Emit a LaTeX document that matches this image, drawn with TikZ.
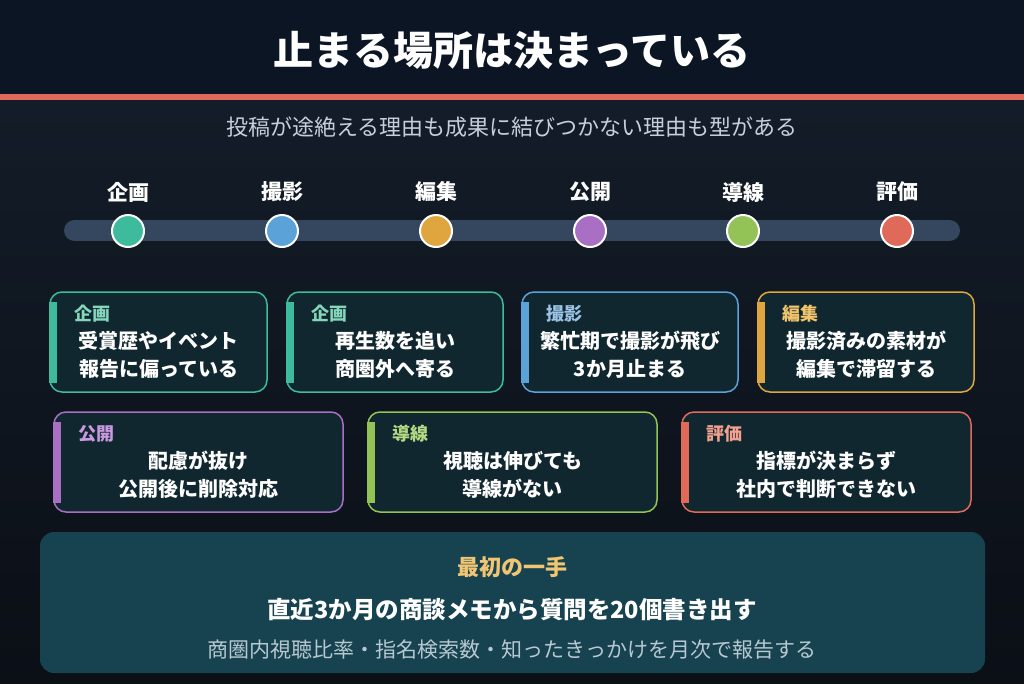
\documentclass[tikz,border=0pt]{standalone}
\usepackage{fontspec}
\setmainfont{Noto Sans CJK JP}
\definecolor{headbg}{HTML}{0B1524}
\definecolor{bgtop}{HTML}{131C28}
\definecolor{bgbot}{HTML}{0B0F16}
\definecolor{redline}{HTML}{E06A5A}
\definecolor{barcol}{HTML}{34475E}
\definecolor{cardbg}{HTML}{11272F}
\definecolor{boxbg}{HTML}{16434F}
\definecolor{subtxt}{HTML}{C5D0DC}
\definecolor{boxsub}{HTML}{B8C8D3}
\definecolor{gold}{HTML}{F0C674}
\definecolor{cA}{HTML}{3DBB9C}\definecolor{cAl}{HTML}{86D6BC}
\definecolor{cB}{HTML}{5BA2D9}\definecolor{cBl}{HTML}{9CC3E6}
\definecolor{cC}{HTML}{DFA640}\definecolor{cCl}{HTML}{F2C46B}
\definecolor{cD}{HTML}{A96FC4}\definecolor{cDl}{HTML}{C99AE0}
\definecolor{cE}{HTML}{93C256}\definecolor{cEl}{HTML}{B5DA84}
\definecolor{cF}{HTML}{E06A5A}\definecolor{cFl}{HTML}{F2A090}
\tikzset{
  dot/.style={circle, minimum size=32, inner sep=0, draw=white, line width=2},
  steplabel/.style={font=\fontsize{21}{25}\selectfont\bfseries, text=white},
  cardlabel/.style={anchor=west, inner sep=0, font=\fontsize{18}{22}\selectfont\bfseries},
  cardbody/.style={align=center, inner sep=0, font=\fontsize{20}{28}\selectfont\bfseries, text=white},
}
\newcommand\mkcard[9]{%
  \draw[fill=cardbg, draw=#6, line width=1.5, rounded corners=12] (#2,#3) rectangle (#4,#5);
  \fill[#6] (#2-0.75,#3+10) rectangle (#2+6.5,#5-9);
  \node[cardlabel, text=#7] (#1l) at (#2+24,#3+22) {#8};
  \node[cardbody] (#1b) at ({(#2+#4)/2},{#3+63}) {#9};
}
\begin{document}
\begin{tikzpicture}[x=1pt,y=-1pt]
\useasboundingbox (0,0) rectangle (1024,683);
\shade[top color=bgtop, bottom color=bgbot] (0,100) rectangle (1024,683);
\fill[headbg] (0,0) rectangle (1024,94);
\fill[redline] (0,94) rectangle (1024,100);
\node[font=\fontsize{40}{48}\selectfont\bfseries, text=white] (title) at (512,50) {止まる場所は決まっている};
\node[font=\fontsize{22}{26}\selectfont, text=subtxt] (subtitle) at (512,127) {投稿が途絶える理由も成果に結びつかない理由も型がある};
% timeline
\draw[barcol, line width=21, line cap=round] (74.5,230.5) -- (949.5,230.5);
\foreach \x/\c/\t [count=\i] in {128/cA/企画, 282/cB/撮影, 436/cC/編集, 590/cD/公開, 743/cE/導線, 897/cF/評価}{
  \node[dot, fill=\c] (d\i) at (\x,231) {};
  \node[steplabel] (s\i) at (\x,192) {\t};
}
% row 1 cards
\mkcard{k1}{50}{292}{267}{392}{cA}{cAl}{企画}{受賞歴やイベント\\報告に偏っている}
\mkcard{k2}{287}{292}{503}{392}{cA}{cAl}{企画}{再生数を追い\\商圏外へ寄る}
\mkcard{k3}{522}{292}{738}{392}{cB}{cBl}{撮影}{繁忙期で撮影が飛び\\3か月止まる}
\mkcard{k4}{758}{292}{974}{392}{cC}{cCl}{編集}{撮影済みの素材が\\編集で滞留する}
% row 2 cards
\mkcard{k5}{54}{412}{343}{512}{cD}{cDl}{公開}{配慮が抜け\\公開後に削除対応}
\mkcard{k6}{368}{412}{657}{512}{cE}{cEl}{導線}{視聴は伸びても\\導線がない}
\mkcard{k7}{682}{412}{971}{512}{cF}{cFl}{評価}{指標が決まらず\\社内で判断できない}
% bottom box
\fill[boxbg, rounded corners=14] (40,532) rectangle (985,673);
\node[font=\fontsize{22}{26}\selectfont\bfseries, text=gold] (first) at (512,567) {最初の一手};
\node[font=\fontsize{23.5}{28}\selectfont\bfseries, text=white] (action) at (512,610) {直近3か月の商談メモから質問を20個書き出す};
\node[font=\fontsize{21}{25}\selectfont, text=boxsub] (report) at (512,650) {商圏内視聴比率・指名検索数・知ったきっかけを月次で報告する};
\end{tikzpicture}
\end{document}
